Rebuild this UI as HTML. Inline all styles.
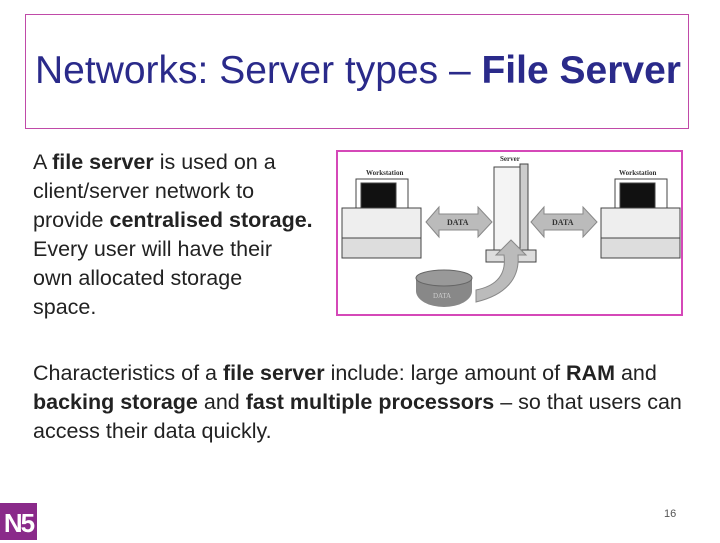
<!DOCTYPE html>
<html><head><style>
body{margin:0;width:720px;height:540px;background:#fff;position:relative;overflow:hidden;font-family:"Liberation Sans",sans-serif;color:#222}
.t{position:absolute;left:25px;top:14px;width:662px;height:113px;border:1px solid #c04aa8;}
.t div{position:absolute;left:9px;top:34px;font-size:39px;color:#2a2a8a;white-space:nowrap;letter-spacing:0px}
.p{position:absolute;font-size:21.5px;line-height:29px;color:#222;white-space:nowrap}
b{font-weight:bold}
</style></head><body>
<div class="t"><div>Networks: Server types – <b>File Server</b></div></div>
<div class="p" style="left:33px;top:148px;">A <b>file server</b> is used on a<br>client/server network to<br>provide <b>centralised storage.</b><br>Every user will have their<br>own allocated storage<br>space.</div>
<div class="p" style="left:33px;top:359px;">Characteristics of a <b>file server</b> include: large amount of <b>RAM</b> and<br><b>backing storage</b> and <b>fast multiple processors</b> – so that users can<br>access their data quickly.</div>
<svg style="position:absolute;left:336px;top:150px" width="347" height="166">
<rect x="1" y="1" width="345" height="164" fill="#fff" stroke="#d548b8" stroke-width="2"/>
<g font-family="Liberation Serif" font-size="7" font-weight="bold" fill="#333">
<text x="30" y="25">Workstation</text><text x="283" y="25">Workstation</text><text x="164" y="11">Server</text></g>
<g stroke="#444" fill="#fff" stroke-width="1">
<rect x="20" y="29" width="52" height="36"/><rect x="25" y="33" width="35" height="27" fill="#111"/>
<rect x="6" y="58" width="79" height="30" fill="#eee"/><rect x="6" y="88" width="79" height="20" fill="#ddd"/>
<rect x="279" y="29" width="52" height="36"/><rect x="284" y="33" width="35" height="27" fill="#111"/>
<rect x="265" y="58" width="79" height="30" fill="#eee"/><rect x="265" y="88" width="79" height="20" fill="#ddd"/>
<rect x="158" y="17" width="26" height="88" fill="#f4f4f4"/><rect x="184" y="14" width="8" height="88" fill="#ccc"/>
<rect x="150" y="100" width="50" height="12" fill="#ddd"/>
</g>
<path d="M90 72 L103 57 L103 64 L142 64 L142 57 L156 72 L142 87 L142 80 L103 80 L103 87Z" fill="#bbb" stroke="#888"/>
<path d="M195 72 L208 57 L208 64 L247 64 L247 57 L261 72 L247 87 L247 80 L208 80 L208 87Z" fill="#bbb" stroke="#888"/>
<g font-family="Liberation Serif" font-size="8" font-weight="bold" fill="#333"><text x="111" y="75">DATA</text><text x="216" y="75">DATA</text></g>
<path d="M140 140 C165 135 170 120 168 105 L160 105 L175 90 L190 105 L182 105 C184 128 170 145 140 152Z" fill="#bbb" stroke="#888"/>
<ellipse cx="108" cy="141" rx="28" ry="16" fill="#888"/><rect x="80" y="128" width="56" height="13" fill="#888"/>
<ellipse cx="108" cy="128" rx="28" ry="8" fill="#999" stroke="#666"/>
<text x="97" y="148" font-family="Liberation Serif" font-size="7" fill="#ccc">DATA</text>
</svg>
<div style="position:absolute;left:0;top:503px;width:37px;height:37px;background:#8a2a8a;color:#fff;font-weight:bold;font-size:26px;line-height:40px;letter-spacing:-2px;text-align:center">N5</div>
<div style="position:absolute;left:664px;top:508px;font-size:11px;color:#555">16</div>
</body></html>
